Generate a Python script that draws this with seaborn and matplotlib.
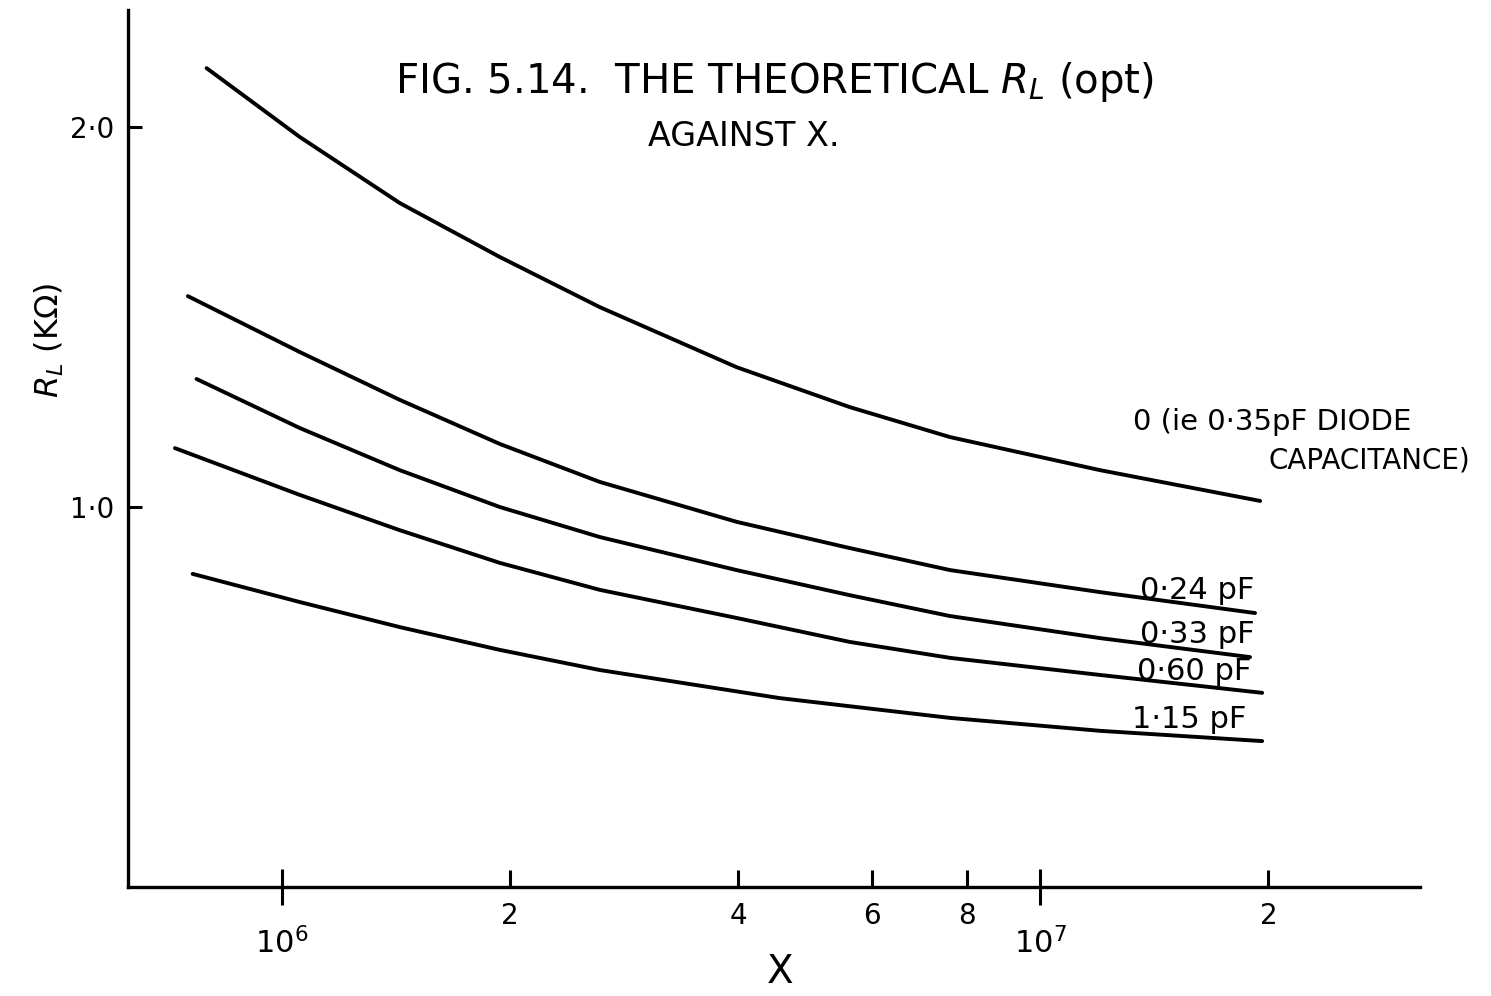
import numpy as np
import pandas as pd
import matplotlib
matplotlib.use("Agg")
import matplotlib.pyplot as plt
import seaborn as sns

# ---- data (X, R_L in kOhm) ----
x_c0 = [0.796e6, 1.056e6, 1.431e6, 1.939e6, 2.627e6, 3.98e6, 5.61e6, 7.61e6, 1.20e7, 1.951e7]
y_c0 = [2.155, 1.974, 1.800, 1.658, 1.526, 1.368, 1.263, 1.184, 1.097, 1.016]

x_c024 = [0.752e6, 1.056e6, 1.431e6, 1.939e6, 2.627e6, 3.98e6, 5.61e6, 7.61e6, 1.20e7, 1.921e7]
y_c024 = [1.555, 1.408, 1.282, 1.166, 1.066, 0.961, 0.892, 0.834, 0.776, 0.721]

x_c033 = [0.772e6, 1.056e6, 1.431e6, 1.939e6, 2.627e6, 3.98e6, 5.61e6, 7.61e6, 1.20e7, 1.892e7]
y_c033 = [1.337, 1.208, 1.097, 1.000, 0.921, 0.834, 0.768, 0.713, 0.655, 0.605]

x_c060 = [0.723e6, 1.056e6, 1.431e6, 1.939e6, 2.627e6, 3.98e6, 5.61e6, 7.61e6, 1.20e7, 1.963e7]
y_c060 = [1.155, 1.032, 0.939, 0.853, 0.782, 0.708, 0.645, 0.603, 0.558, 0.511]

x_c115 = [0.763e6, 1.056e6, 1.431e6, 1.939e6, 2.627e6, 4.54e6, 7.61e6, 1.20e7, 1.963e7]
y_c115 = [0.824, 0.750, 0.684, 0.624, 0.571, 0.497, 0.445, 0.411, 0.384]

series = ["0", "0.24 pF", "0.33 pF", "0.60 pF", "1.15 pF"]
xs = [x_c0, x_c024, x_c033, x_c060, x_c115]
ys = [y_c0, y_c024, y_c033, y_c060, y_c115]

major_ticks = [1e6, 1e7]
major_labels = ["$10^6$", "$10^7$"]
minor_ticks = [2e6, 4e6, 6e6, 8e6, 2e7]
minor_labels = ["2", "4", "6", "8", "2"]
y_ticks = [1.0, 2.0]
y_labels = ["1·0", "2·0"]

df = pd.concat(
    [pd.DataFrame({"X": x, "RL": y, "curve": s}) for s, x, y in zip(series, xs, ys)],
    ignore_index=True,
)

sns.set_style("white")
plt.rcParams["font.family"] = ["DejaVu Sans"]

fig = plt.figure(figsize=(14.91, 9.96), dpi=100)
ax = fig.add_axes([128 / 1491, 1 - 887 / 996, (1420 - 128) / 1491, (887 - 10) / 996])

sns.lineplot(data=df, x="X", y="RL", hue="curve", palette=["black"] * 5,
             estimator=None, sort=False, legend=False, linewidth=2.8, ax=ax)

ax.set_xscale("log")
ax.set_xlim(6.27e5, 3.17e7)
ax.set_ylim(0, 2.308)

for s in ["top", "right"]:
    ax.spines[s].set_visible(False)
for s in ["left", "bottom"]:
    ax.spines[s].set_linewidth(2.4)
    ax.spines[s].set_color("black")

ax.set_xticks(major_ticks, labels=major_labels)
ax.set_xticks(minor_ticks, labels=minor_labels, minor=True)
ax.set_yticks(y_ticks, labels=y_labels)

ax.tick_params(axis="x", which="major", bottom=True, direction="inout", length=26, width=2.2,
               pad=16, labelsize=22, colors="black")
ax.tick_params(axis="x", which="minor", bottom=True, direction="in", length=12, width=2.2,
               pad=11, labelsize=20, colors="black")
ax.tick_params(axis="y", which="major", left=True, direction="in", length=10, width=2.2,
               pad=10, labelsize=20, colors="black")
ax.tick_params(axis="y", which="minor", left=False)

ax.set_xlabel("X", fontsize=28, color="black")
ax.xaxis.set_label_coords((780 - 128) / 1292, (887 - 953) / 877)
ax.set_ylabel("$R_L$ (K$\\Omega$)", fontsize=23, color="black")
ax.yaxis.set_label_coords((66 - 128) / 1292, (887 - 340) / 877)

def ftxt(px, py, s, size, ha="left", va="center"):
    fig.text(px / 1491, 1 - py / 996, s, fontsize=size, ha=ha, va=va, color="black")

ftxt(395, 82, "FIG. 5.14.  THE THEORETICAL $R_L$ (opt)", 29)
ftxt(648, 136, "AGAINST X.", 24)
ftxt(1133, 422, "0 (ie 0·35pF DIODE", 21)
ftxt(1268, 460, "CAPACITANCE)", 20)
ftxt(1140, 590, "0·24 pF", 22)
ftxt(1140, 634, "0·33 pF", 22)
ftxt(1137, 672, "0·60 pF", 22)
ftxt(1132, 720, "1·15 pF", 22)

fig.savefig("out.png", dpi=100, facecolor="white")
